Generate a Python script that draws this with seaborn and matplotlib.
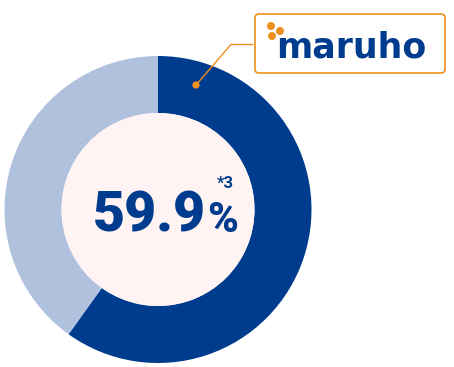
import matplotlib
matplotlib.use("Agg")
import matplotlib.pyplot as plt
import seaborn as sns
from matplotlib.patches import Circle, FancyBboxPatch

# ---- data ----
categories = ["maruho", "others"]
shares = [59.9, 40.1]
center_label = "59.9"
unit_label = "%"
note_label = "*3"
brand_label = "maruho"

colors = ["#003C8E", "#AFC1DD"]

sns.set_theme(style="white")
plt.rcParams["font.family"] = ["Roboto", "DejaVu Sans"]
num_font = ["Roboto", "DejaVu Sans"]

W, H = 454, 367
fig = plt.figure(figsize=(W / 100, H / 100), dpi=100)
ax = fig.add_axes([0, 0, 1, 1])

def Y(y):
    return H - y

cx, cy = 158, 209.5
R_out, R_in = 153.5, 96.5

ax.pie(shares, colors=colors, startangle=90, counterclock=False,
       center=(cx, Y(cy)), radius=R_out,
       wedgeprops=dict(width=R_out - R_in, linewidth=0), frame=True)
ax.set_xlim(0, W)
ax.set_ylim(0, H)
ax.set_aspect("equal")
ax.axis("off")
ax.add_patch(Circle((cx, Y(cy)), R_in, facecolor="#FFF3F3", edgecolor="none", zorder=2))

blue = "#003C8E"
ax.text(93, Y(232), center_label, fontsize=40, fontweight="heavy", color=blue,
        family=num_font, ha="left", va="baseline", zorder=5)
ax.text(207, Y(232), unit_label, fontsize=30, fontweight="heavy", color=blue,
        family=num_font, ha="left", va="baseline", zorder=5)
ax.text(217, Y(188), note_label, fontsize=12, fontweight="bold", color=blue,
        family=num_font, ha="left", va="baseline", zorder=5)

orange = "#EE8F1E"
box = FancyBboxPatch((255, Y(73)), 190, 59, boxstyle="round,pad=0,rounding_size=4",
                     facecolor="white", edgecolor=orange, linewidth=1.2, zorder=4)
ax.add_patch(box)
ax.plot([253, 231, 196], [Y(44.5), Y(44.5), Y(85)], color=orange, lw=1.0, zorder=6)
ax.add_patch(Circle((196, Y(85)), 3.6, facecolor=orange, edgecolor="none", zorder=7))

# logo dots
for (dx, dy) in [(271, 26), (272, 36), (280, 31)]:
    ax.add_patch(Circle((dx, Y(dy)), 4.0, facecolor=orange, edgecolor="none", zorder=6))
ax.text(276, Y(57), brand_label, fontsize=25, fontweight="bold", color=blue,
        family=["DejaVu Sans"], ha="left", va="baseline", zorder=6)

fig.savefig("out.png", dpi=100)
